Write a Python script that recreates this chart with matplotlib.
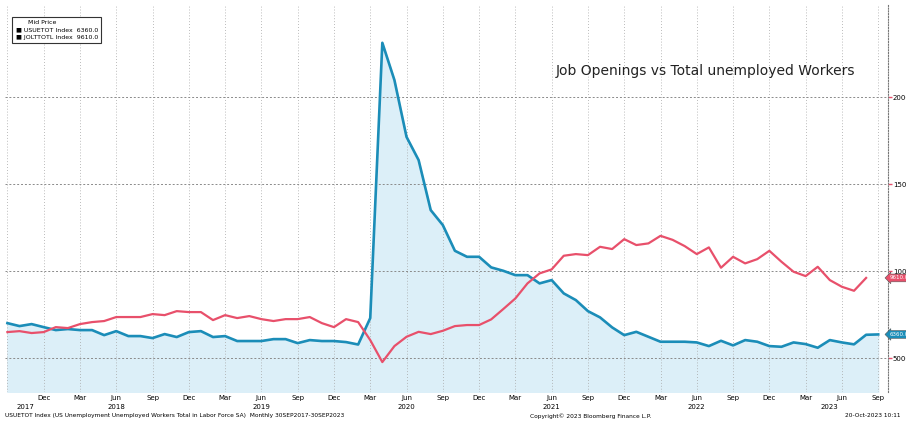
import numpy as np
import matplotlib.pyplot as plt
import matplotlib.transforms as mtransforms

# monthly data, Sep 2017 .. Sep 2023 (thousands)
unemployed = [7010, 6840, 6955, 6780, 6610, 6670, 6610, 6610, 6320, 6550,
              6265, 6265, 6150, 6380, 6210, 6495, 6550, 6210, 6265, 5980,
              5980, 5980, 6090, 6090, 5860, 6035, 5980, 5980, 5920, 5780,
              7300, 23130, 20985, 17720, 16385, 13510, 12650, 11170, 10825, 10825,
              10215, 10020, 9770, 9770, 9295, 9485, 8720, 8335, 7700, 7340,
              6765, 6320, 6510, 6225, 5940, 5940, 5940, 5900, 5690, 5995,
              5730, 6035, 5940, 5690, 5650, 5900, 5805, 5595, 6035, 5900,
              5790, 6340, 6360]
# job openings, Sep 2017 .. Aug 2023
openings = [6495, 6550, 6440, 6495, 6780, 6725, 6955, 7070, 7130, 7360,
            7360, 7360, 7530, 7470, 7700, 7645, 7645, 7185, 7470, 7300,
            7415, 7240, 7130, 7240, 7240, 7360, 7010, 6780, 7240, 7070,
            6035, 4770, 5690, 6225, 6510, 6380, 6570, 6840, 6900, 6900,
            7225, 7820, 8430, 9295, 9870, 10100, 10885, 10980, 10920, 11400,
            11270, 11840, 11500, 11595, 12030, 11800, 11440, 10980, 11365, 10195,
            10825, 10445, 10690, 11170, 10540, 9965, 9715, 10250, 9485, 9100,
            8870, 9610]

month_names = ['Dec', 'Mar', 'Jun', 'Sep']
years = ['2017', '2018', '2019', '2020', '2021', '2022', '2023']
year_pos = [1.5, 9, 21, 33, 45, 57, 68]
yticks = [5000, 10000, 15000, 20000]

blue = '#1b8db8'
red = '#e8506b'

fig = plt.figure(figsize=(9.06, 4.23), dpi=100)
ax = fig.add_axes([0.0055, 0.0733, 0.9745, 0.9147])

xb = np.arange(len(unemployed))
xr = np.arange(len(openings))
ax.fill_between(xb, unemployed, 0, color='#dceff8', zorder=1)
ax.plot(xb, unemployed, color=blue, lw=1.9, zorder=3)
ax.plot(xr, openings, color=red, lw=1.6, zorder=3)

ax.set_xlim(-0.2, 72.8)
ax.set_ylim(3050, 25300)

# grid
ax.set_xticks(range(3, 73, 3))
ax.set_xticklabels([month_names[i % 4] for i in range(24)], fontsize=5)
ax.tick_params(axis='x', length=0, pad=2)
for xv in range(0, 73, 3):
    ax.axvline(xv, color='#a5a5a5', lw=0.6, ls=(0, (1, 2.5)), zorder=2)
for yv in yticks:
    ax.axhline(yv, color='#8a8a8a', lw=0.7, ls=(0, (2, 2)), zorder=2)

ax.yaxis.tick_right()
ax.set_yticks(yticks)
ax.set_yticklabels([str(v) for v in yticks], fontsize=5)
ax.tick_params(axis='y', length=3, color=red, width=1, pad=0.5)

for s in ['top', 'left', 'bottom']:
    ax.spines[s].set_visible(False)
ax.spines['right'].set_color('#777777')
ax.spines['right'].set_linestyle((0, (1, 1.5)))
ax.spines['right'].set_linewidth(0.8)

trans = mtransforms.blended_transform_factory(ax.transData, ax.transAxes)
for y, p in zip(years, year_pos):
    ax.text(p, -0.039, y, transform=trans, fontsize=5, ha='center', va='center')

# value tags on the right
for val, col in [(openings[-1], red), (unemployed[-1], blue)]:
    ax.annotate('%.1f' % val, xy=(1.0, val), xycoords=('axes fraction', 'data'),
                xytext=(1, 0), textcoords='offset points', fontsize=4,
                color='white', va='center', ha='left',
                bbox=dict(boxstyle='larrow,pad=0.25', fc=col, ec='#555555', lw=0.4))

# legend box
ax.text(0.012, 0.962, '      Mid Price\n\u25A0 USUETOT Index  6360.0\n\u25A0 JOLTTOTL Index  9610.0',
        transform=ax.transAxes, fontsize=4.5, va='top', ha='left', linespacing=1.6,
        bbox=dict(boxstyle='square,pad=0.5', fc='white', ec='#333333', lw=0.8))

ax.text(0.793, 0.83, 'Job Openings vs Total unemployed Workers', transform=ax.transAxes,
        fontsize=10, ha='center', va='center', color='#222222')

fig.text(0.005, 0.017, 'USUETOT Index (US Unemployment Unemployed Workers Total in Labor Force SA)  Monthly 30SEP2017-30SEP2023',
         fontsize=4.2, ha='left', va='center')
fig.text(0.652, 0.017, 'Copyright\u00a9 2023 Bloomberg Finance L.P.', fontsize=4.2, ha='center', va='center')
fig.text(0.933, 0.017, '20-Oct-2023 10:11', fontsize=4.2, ha='left', va='center')

fig.savefig('out.png', dpi=100)
